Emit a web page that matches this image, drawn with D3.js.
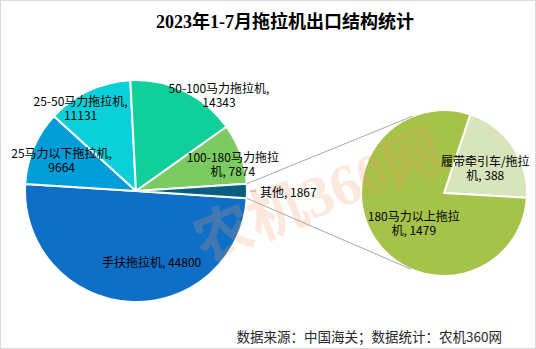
<!DOCTYPE html>
<html><head><meta charset="utf-8">
<script src="https://cdn.jsdelivr.net/npm/d3@7/dist/d3.min.js"></script>
<style>
html,body{margin:0;padding:0;background:#fff;}
svg{display:block;}
text{font-family:"Noto Sans CJK SC","Microsoft YaHei",sans-serif;}
</style></head>
<body>
<svg id="chart" width="536" height="349"></svg>
<script>
// ---- data ----
const mainCategories = ["手扶拖拉机", "25马力以下拖拉机", "25-50马力拖拉机", "50-100马力拖拉机", "100-180马力拖拉机", "其他"];
const mainValues = [44800, 9664, 11131, 14343, 7874, 1867];
const subCategories = ["履带牵引车/拖拉机", "180马力以上拖拉机"];
const subValues = [388, 1479];
const titleText = "2023年1-7月拖拉机出口结构统计";
const sourceText = "数据来源：中国海关；数据统计：农机360网";
const watermarkText = "农机360网";

// label line breaks (text content)
const mainLabelLines = [
  ["手扶拖拉机, 44800"],
  ["25马力以下拖拉机,", "9664"],
  ["25-50马力拖拉机,", "11131"],
  ["50-100马力拖拉机,", "14343"],
  ["100-180马力拖拉", "机, 7874"],
  ["其他, 1867"]
];
const subLabelLines = [
  ["履带牵引车/拖拉", "机, 388"],
  ["180马力以上拖拉", "机, 1479"]
];

// ---- style / layout ----
const W = 536, H = 349;
const mainColors = ["#0f6fc6", "#009dd9", "#0bd0d9", "#10cf9b", "#7cca62", "#075e80"];
const subColors = ["#d8e4bc", "#a5c249"];
const mainCenter = [136, 191], mainR = 111;
const subCenter = [444, 193], subR = 83;
const mainLabelNudge = [[20, 2], [-11, -5], [-26, -21], [53, -35], [32, -4], [0, 0]];
const subLabelNudge = [[0, 2], [11, 2]];
const subStart = 0.323;
const lineH = 14;

const svg = d3.select("#chart");
svg.append("rect").attr("x", 0.5).attr("y", 0.5).attr("width", W - 1).attr("height", H - 1)
  .attr("fill", "#fff").attr("stroke", "#d9d9d9");

// title
svg.append("text").attr("x", 285).attr("y", 28).attr("text-anchor", "middle")
  .style("font-family", "'Liberation Serif','Noto Sans CJK SC',serif")
  .style("font-weight", "bold").style("font-size", "18px").attr("fill", "#000")
  .text(titleText);

// main pie
const total = d3.sum(mainValues);
const otherAng = mainValues[mainValues.length - 1] / total * 2 * Math.PI;
const mainStart = Math.PI / 2 + otherAng / 2;
const pieMain = d3.pie().sort(null).startAngle(mainStart).endAngle(mainStart + 2 * Math.PI);
const mainArcs = pieMain(mainValues);
const arcMain = d3.arc().innerRadius(0).outerRadius(mainR);
const gMain = svg.append("g").attr("transform", `translate(${mainCenter})`);
gMain.selectAll("path").data(mainArcs).join("path")
  .attr("d", arcMain).attr("fill", (d, i) => mainColors[i])
  .attr("stroke", "#fff").attr("stroke-width", 2).attr("stroke-linejoin", "round");

// secondary pie
const pieSub = d3.pie().sort(null).startAngle(subStart).endAngle(subStart + 2 * Math.PI);
const subArcs = pieSub(subValues);
const arcSub = d3.arc().innerRadius(0).outerRadius(subR);
const gSub = svg.append("g").attr("transform", `translate(${subCenter})`);
gSub.selectAll("path").data(subArcs).join("path")
  .attr("d", arcSub).attr("fill", (d, i) => subColors[i])
  .attr("stroke", "#fff").attr("stroke-width", 2).attr("stroke-linejoin", "round");

// connector lines: tangent from other-slice edge points to the secondary circle
const other = mainArcs[mainArcs.length - 1];
function pt(c, r, a) { return [c[0] + r * Math.sin(a), c[1] - r * Math.cos(a)]; }
function tangent(P, upper) {
  const dx = P[0] - subCenter[0], dy = P[1] - subCenter[1];
  const d = Math.hypot(dx, dy);
  const base = Math.atan2(dy, dx);
  const off = Math.acos(subR / d);
  const a = upper ? base + off : base - off;
  return [subCenter[0] + subR * Math.cos(a), subCenter[1] + subR * Math.sin(a)];
}
const pTop = pt(mainCenter, mainR, other.startAngle);
const pBot = pt(mainCenter, mainR, other.endAngle);
const tTop = tangent(pTop, true), tBot = tangent(pBot, false);
svg.append("line").attr("x1", pTop[0]).attr("y1", pTop[1]).attr("x2", tTop[0]).attr("y2", tTop[1])
  .attr("stroke", "#a6a6a6").attr("stroke-width", 1);
svg.append("line").attr("x1", pBot[0]).attr("y1", pBot[1]).attr("x2", tBot[0]).attr("y2", tBot[1])
  .attr("stroke", "#a6a6a6").attr("stroke-width", 1);

// watermark
svg.append("text").attr("transform", "translate(318,196) rotate(-22)")
  .attr("text-anchor", "middle").attr("dominant-baseline", "central")
  .style("font-family", "'Liberation Serif','Noto Sans CJK SC',serif")
  .style("font-weight", "bold").style("font-size", "58px")
  .attr("fill", "#f39a62").attr("opacity", 0.22).text(watermarkText);

// labels
function drawLabel(g, lines, x, y, anchor) {
  const t = g.append("text").attr("text-anchor", anchor || "middle")
    .style("font-size", "12px").attr("fill", "#000");
  const n = lines.length;
  lines.forEach((s, k) => {
    t.append("tspan").attr("x", x).attr("y", y + (k - (n - 1) / 2) * lineH)
      .attr("dominant-baseline", "central").text(s);
  });
}
const labR = d3.arc().innerRadius(mainR * 0.62).outerRadius(mainR * 0.62);
mainArcs.forEach((a, i) => {
  if (i === mainArcs.length - 1) return;
  const c = labR.centroid(a);
  drawLabel(svg, mainLabelLines[i], mainCenter[0] + c[0] + mainLabelNudge[i][0], mainCenter[1] + c[1] + mainLabelNudge[i][1]);
});
// 其他 outside label with leader
{
  const mid = (other.startAngle + other.endAngle) / 2;
  const l1 = pt(mainCenter, mainR + 3, mid), l2 = pt(mainCenter, mainR + 9, mid);
  svg.append("line").attr("x1", l1[0]).attr("y1", l1[1]).attr("x2", l2[0]).attr("y2", l2[1])
    .attr("stroke", "#a6a6a6").attr("stroke-width", 1);
  const tp = pt(mainCenter, mainR + 13, mid);
  drawLabel(svg, mainLabelLines[mainLabelLines.length - 1], tp[0], tp[1], "start");
}
const labSub = d3.arc().innerRadius(subR * 0.6).outerRadius(subR * 0.6);
subArcs.forEach((a, i) => {
  const c = labSub.centroid(a);
  drawLabel(svg, subLabelLines[i], subCenter[0] + c[0] + subLabelNudge[i][0], subCenter[1] + c[1] + subLabelNudge[i][1]);
});

// source
svg.append("text").attr("x", 502).attr("y", 336).attr("text-anchor", "end")
  .attr("dominant-baseline", "central").style("font-size", "13.5px").attr("fill", "#262626")
  .text(sourceText);
</script>
</body></html>
